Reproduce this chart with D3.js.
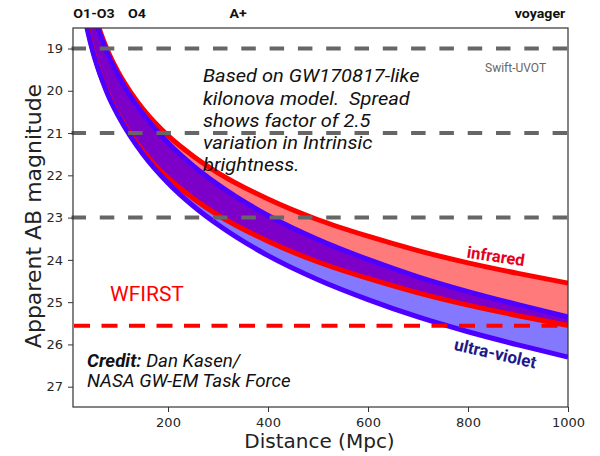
<!DOCTYPE html>
<html>
<head>
<meta charset="utf-8">
<script src="https://cdn.jsdelivr.net/npm/d3@7"></script>
<style>
  body { margin: 0; background: #fff; }
  .axis text { font-family: "DejaVu Sans", sans-serif; font-size: 13px; fill: #262626; }
  .axis line { stroke: #333; }
  text { white-space: pre; }
</style>
</head>
<body>
<div id="my_dataviz"></div>
<script>
//== DATA ================================================//
// distance in Mpc
var dist = [35, 40, 50, 60, 70, 80, 100, 125, 150, 200, 250, 300, 400, 500, 600, 700, 800, 900, 1000];
// apparent AB magnitude, edges of each band (bright / faint)
var irBright = [17.27, 17.56, 18.05, 18.44, 18.78, 19.07, 19.55, 20.03, 20.43, 21.06, 21.54, 21.94, 22.56, 23.05, 23.44, 23.78, 24.07, 24.32, 24.55];
var irFaint = [18.27, 18.56, 19.05, 19.44, 19.78, 20.07, 20.55, 21.03, 21.43, 22.06, 22.54, 22.94, 23.56, 24.05, 24.44, 24.78, 25.07, 25.32, 25.55];
var uvBright = [17.39, 17.67, 18.14, 18.52, 18.85, 19.15, 19.63, 20.13, 20.55, 21.23, 21.77, 22.22, 22.95, 23.52, 23.99, 24.40, 24.75, 25.06, 25.35];
var uvFaint = [18.34, 18.62, 19.09, 19.47, 19.80, 20.10, 20.58, 21.08, 21.50, 22.18, 22.72, 23.17, 23.90, 24.47, 24.94, 25.35, 25.70, 26.01, 26.30];

// survey limits
var greyLimits = [19, 21, 23];
var wfirstLimit = [25.56];

// ticks
var xTicks = [200, 400, 600, 800, 1000];
var yTicks = [19, 20, 21, 22, 23, 24, 25, 26, 27];

// top labels (observing runs)
var runLabels = ["O1-O3", "O4", "A+", "voyager"];
var runDist = [52, 138, 340, 944];

var noteLines = ["Based on GW170817-like", "kilonova model.  Spread", "shows factor of 2.5", "variation in Intrinsic", "brightness."];

// set the dimensions and margins of the graph
var width_a = 600,
    height_a = 456;
var margin = {
        top: 28,
        right: 32,
        bottom: 49,
        left: 73
    },
    width = width_a - margin.left - margin.right,
    height = height_a - margin.top - margin.bottom;

var svg = d3.select("#my_dataviz")
    .append("svg")
    .attr("width", width_a)
    .attr("height", height_a)
    .append("g")
    .attr("transform", "translate(" + margin.left + "," + margin.top + ")");

var x = d3.scaleLinear()
    .domain([10, 1000])
    .range([0, width]);
var y = d3.scaleLinear()
    .domain([18.515, 27.48])
    .range([0, height]);

// clip
svg.append("defs").append("clipPath")
    .attr("id", "clip")
    .append("rect")
    .attr("width", width)
    .attr("height", height);

var data = [];
for (var ii = 0; ii < dist.length; ii++) {
    data.push({
        d: dist[ii],
        irb: irBright[ii],
        irf: irFaint[ii],
        uvb: uvBright[ii],
        uvf: uvFaint[ii],
        ovb: Math.max(irBright[ii], uvBright[ii]),
        ovf: Math.min(irFaint[ii], uvFaint[ii])
    });
}

var plot = svg.append("g").attr("clip-path", "url(#clip)");

var band = function (k0, k1) {
    return d3.area()
        .x(function (d) { return x(d.d); })
        .y0(function (d) { return y(d[k0]); })
        .y1(function (d) { return y(d[k1]); })
        .curve(d3.curveMonotoneX);
};
var edge = function (k) {
    return d3.line()
        .x(function (d) { return x(d.d); })
        .y(function (d) { return y(d[k]); })
        .curve(d3.curveMonotoneX);
};

plot.append("path").datum(data).attr("d", band("irb", "irf")).attr("fill", "#ff7a7a");
plot.append("path").datum(data).attr("d", band("uvb", "uvf")).attr("fill", "#8478ff");
plot.append("path").datum(data).attr("d", band("ovb", "ovf")).attr("fill", "#7d00c8");

["irb", "irf"].forEach(function (k) {
    plot.append("path").datum(data).attr("d", edge(k))
        .attr("fill", "none").attr("stroke", "#ff0000").attr("stroke-width", 5);
});
["uvb", "uvf"].forEach(function (k) {
    plot.append("path").datum(data).attr("d", edge(k))
        .attr("fill", "none").attr("stroke", "#4d00ff").attr("stroke-width", 5);
});

// limit lines
svg.selectAll(".grey-lim")
    .data(greyLimits)
    .enter().append("line")
    .attr("x1", -1.5).attr("x2", width)
    .attr("y1", function (d) { return y(d); })
    .attr("y2", function (d) { return y(d); })
    .attr("stroke", "#666")
    .attr("stroke-width", 4)
    .attr("stroke-dasharray", "14.5,13.8");
svg.selectAll(".red-lim")
    .data(wfirstLimit)
    .enter().append("line")
    .attr("x1", 1).attr("x2", width)
    .attr("y1", function (d) { return y(d); })
    .attr("y2", function (d) { return y(d); })
    .attr("stroke", "#ff0000")
    .attr("stroke-width", 4)
    .attr("stroke-dasharray", "16,11.5");

// axes
svg.append("g")
    .attr("class", "axis")
    .attr("transform", "translate(0," + height + ")")
    .call(d3.axisBottom(x).tickValues(xTicks).tickFormat(d3.format("d")).tickSize(5).tickPadding(6))
    .call(function (g) { g.select(".domain").remove(); });
svg.append("g")
    .attr("class", "axis")
    .call(d3.axisLeft(y).tickValues(yTicks).tickSize(5).tickPadding(5))
    .call(function (g) { g.select(".domain").remove(); });

// frame
svg.append("rect")
    .attr("width", width)
    .attr("height", height)
    .attr("fill", "none")
    .attr("stroke", "#333")
    .attr("stroke-width", 1.2);

// axis labels
svg.append("text")
    .attr("text-anchor", "middle")
    .attr("x", width / 2 - 1)
    .attr("y", height + 41)
    .style("font-family", "DejaVu Sans")
    .style("font-size", "20px")
    .attr("fill", "#222")
    .text("Distance (Mpc)");
svg.append("text")
    .attr("text-anchor", "middle")
    .attr("transform", "translate(-32," + (height / 2 - 1.5) + ")rotate(-90)")
    .style("font-family", "DejaVu Sans")
    .style("font-size", "22px")
    .attr("fill", "#222")
    .text("Apparent AB magnitude");

// slide text is a little stretched sideways, hence the scale(sx,1)
var stretched = function (px, py, sx) {
    return svg.append("text")
        .attr("transform", "translate(" + px + "," + py + ")scale(" + sx + ",1)");
};

// top labels
runLabels.forEach(function (lab, i) {
    stretched(x(runDist[i]), -10, 1.18)
        .attr("text-anchor", "middle")
        .style("font-family", "Roboto")
        .style("font-weight", "bold")
        .style("font-size", "12px")
        .attr("fill", "#111")
        .text(lab);
});

svg.append("text")
    .attr("x", 412).attr("y", 44)
    .style("font-family", "Roboto")
    .style("font-size", "12px")
    .attr("fill", "#666")
    .text("Swift-UVOT");

// note
noteLines.forEach(function (line, i) {
    stretched(130, 54.3 + i * 22.2, 1.115)
        .style("font-family", "Roboto")
        .style("font-style", "italic")
        .style("font-size", "18px")
        .attr("fill", "#111")
        .text(line);
});

svg.append("text")
    .attr("x", 37).attr("y", 272.7)
    .style("font-family", "Roboto")
    .style("font-size", "21px")
    .attr("fill", "#ff0000")
    .text("WFIRST");

var credit = stretched(14, 338.7, 1.04)
    .style("font-family", "Roboto")
    .style("font-style", "italic")
    .style("font-size", "18px")
    .attr("fill", "#111");
credit.append("tspan").style("font-weight", "bold").text("Credit:");
credit.append("tspan").text(" Dan Kasen/");
stretched(14, 359.3, 1.04)
    .style("font-family", "Roboto")
    .style("font-style", "italic")
    .style("font-size", "18px")
    .attr("fill", "#111")
    .text("NASA GW-EM Task Force");

// band labels
svg.append("text")
    .attr("text-anchor", "middle")
    .attr("transform", "translate(" + x(854) + "," + (y(23.93) + 5) + ")rotate(8.5)")
    .style("font-family", "Roboto")
    .style("font-weight", "bold")
    .style("font-size", "16.5px")
    .attr("fill", "#e6001e")
    .text("infrared");
svg.append("text")
    .attr("text-anchor", "middle")
    .attr("transform", "translate(" + x(852) + "," + (y(26.23) + 5) + ")rotate(13)")
    .style("font-family", "Roboto")
    .style("font-weight", "bold")
    .style("font-size", "17px")
    .attr("fill", "#1e1888")
    .text("ultra-violet");
</script>
</body>
</html>
